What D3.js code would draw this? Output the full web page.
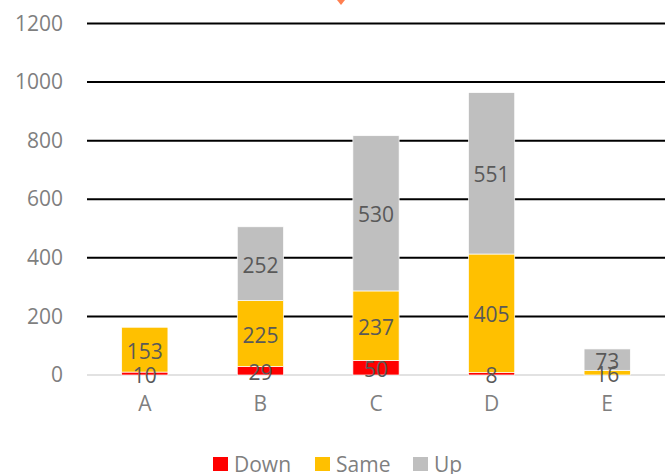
<!DOCTYPE html>
<html lang="en">
<head>
  <meta charset="UTF-8">
  <title>Stacked bars - Down / Same / Up</title>
  <script src="https://d3js.org/d3.v7.min.js"></script>
  <style>
    body { margin: 0; background: #fff; }
    svg { display: block; font-family: "Open Sans", sans-serif; }
    .tick-label { fill: #7f7f7f; font-size: 21px; }
    .bar-label { fill: #595959; font-size: 21px; }
    .legend-label { fill: #7f7f7f; font-size: 21px; }
  </style>
</head>
<body>
  <svg width="672" height="474"></svg>

  <script>
    const categories = ["A", "B", "C", "D", "E"];
    const seriesNames = ["Down", "Same", "Up"];
    const down = [10, 29, 50, 8, 0];
    const same = [153, 225, 237, 405, 16];
    const up = [0, 252, 530, 551, 73];
    const yTicks = [0, 200, 400, 600, 800, 1000, 1200];
    const colors = ["#ff0000", "#ffc000", "#bfbfbf"];

    const svg = d3.select("svg");

    // plot area in pixels
    const plot = {left: 87, right: 665, top: 23.5, bottom: 375};

    const rows = categories.map((c, i) => ({cat: c, Down: down[i], Same: same[i], Up: up[i]}));
    const stacked = d3.stack().keys(seriesNames)(rows);

    const x = d3.scaleBand().domain(categories).range([plot.left, plot.right]).paddingInner(0.6).paddingOuter(0.3);
    const y = d3.scaleLinear().domain([0, 1200]).range([plot.bottom, plot.top]);
    const color = d3.scaleOrdinal().domain(seriesNames).range(colors);

    // gridlines
    svg.append("g")
      .selectAll("line")
      .data(yTicks)
      .join("line")
      .attr("x1", plot.left)
      .attr("x2", plot.right)
      .attr("y1", d => y(d))
      .attr("y2", d => y(d))
      .attr("stroke", d => d === 0 ? "#d9d9d9" : "#000")
      .attr("stroke-width", d => d === 0 ? 1.5 : 2);

    // y axis labels
    const yAxis = svg.append("g")
      .attr("transform", "translate(63,0)")
      .call(d3.axisLeft(y).tickValues(yTicks).tickFormat(d3.format("d")).tickSize(0).tickPadding(0));
    yAxis.select(".domain").remove();
    yAxis.attr("font-size", null).attr("font-family", null);
    yAxis.selectAll("text").attr("class", "tick-label").attr("fill", null);

    // x axis labels
    const xAxis = svg.append("g")
      .attr("transform", `translate(0,${plot.bottom})`)
      .call(d3.axisBottom(x).tickSize(0).tickPadding(21));
    xAxis.select(".domain").remove();
    xAxis.attr("font-size", null).attr("font-family", null);
    xAxis.selectAll("text").attr("class", "tick-label").attr("fill", null);

    // bars
    const layer = svg.append("g")
      .selectAll("g")
      .data(stacked)
      .join("g")
      .attr("fill", d => color(d.key));

    layer.selectAll("rect")
      .data(d => d)
      .join("rect")
      .attr("x", d => x(d.data.cat))
      .attr("y", d => y(d[1]))
      .attr("width", x.bandwidth())
      .attr("height", d => y(d[0]) - y(d[1]))
      .attr("stroke", "#fff")
      .attr("stroke-width", 0.7);

    // data labels
    const labels = svg.append("g");
    stacked.forEach(s => {
      labels.selectAll(null)
        .data(s.filter(d => d[1] - d[0] > 0))
        .join("text")
        .attr("class", "bar-label")
        .attr("x", d => x(d.data.cat) + x.bandwidth() / 2)
        .attr("y", d => y((d[0] + d[1]) / 2) + 1)
        .attr("text-anchor", "middle")
        .attr("dominant-baseline", "central")
        .text(d => d[1] - d[0]);
    });

    // small marker at top edge
    svg.append("path")
      .attr("d", "M337,0 L345,0 L341,5 Z")
      .attr("fill", "#ff7f50");

    // legend
    const legendX = [213, 315, 413];
    const legend = svg.append("g")
      .selectAll("g")
      .data(seriesNames)
      .join("g")
      .attr("transform", (d, i) => `translate(${legendX[i]},457)`);

    legend.append("rect")
      .attr("width", 15)
      .attr("height", 14)
      .attr("fill", d => color(d));

    legend.append("text")
      .attr("class", "legend-label")
      .attr("x", 21)
      .attr("y", 7)
      .attr("dominant-baseline", "central")
      .text(d => d);
  </script>
</body>
</html>
